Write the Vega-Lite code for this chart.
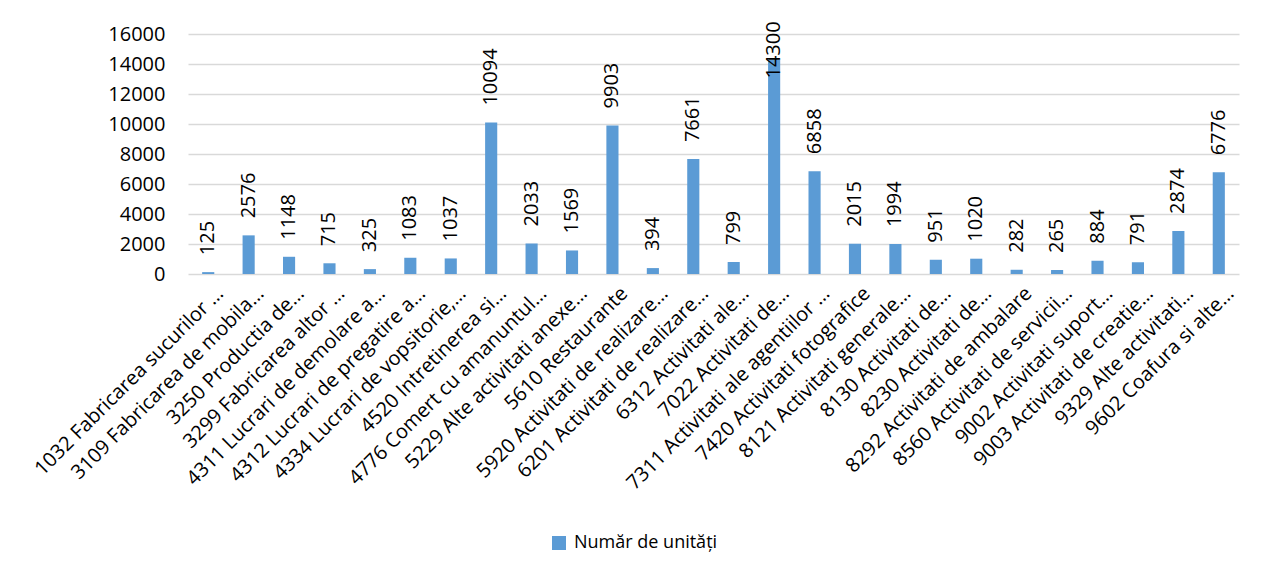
{
  "$schema": "https://vega.github.io/schema/vega-lite/v6.json",
  "width": 1051,
  "height": 240,
  "autosize": {"type": "none"},
  "padding": {"left": 188, "top": 34, "right": 30, "bottom": 306},
  "background": "white",
  "config": {
    "view": {"stroke": null},
    "font": "Open Sans"
  },
  "data": {
    "values": [
      {"cat": "1032 Fabricarea sucurilor …", "val": 125, "series": "Număr de unități"},
      {"cat": "3109 Fabricarea de mobila…", "val": 2576, "series": "Număr de unități"},
      {"cat": "3250 Productia de…", "val": 1148, "series": "Număr de unități"},
      {"cat": "3299 Fabricarea altor …", "val": 715, "series": "Număr de unități"},
      {"cat": "4311 Lucrari de demolare a…", "val": 325, "series": "Număr de unități"},
      {"cat": "4312 Lucrari de pregatire a…", "val": 1083, "series": "Număr de unități"},
      {"cat": "4334 Lucrari de vopsitorie,…", "val": 1037, "series": "Număr de unități"},
      {"cat": "4520 Intretinerea si…", "val": 10094, "series": "Număr de unități"},
      {"cat": "4776 Comert cu amanuntul…", "val": 2033, "series": "Număr de unități"},
      {"cat": "5229 Alte activitati anexe…", "val": 1569, "series": "Număr de unități"},
      {"cat": "5610 Restaurante", "val": 9903, "series": "Număr de unități"},
      {"cat": "5920 Activitati de realizare…", "val": 394, "series": "Număr de unități"},
      {"cat": "6201 Activitati de realizare…", "val": 7661, "series": "Număr de unități"},
      {"cat": "6312 Activitati ale…", "val": 799, "series": "Număr de unități"},
      {"cat": "7022 Activitati de…", "val": 14300, "series": "Număr de unități"},
      {"cat": "7311 Activitati ale agentiilor …", "val": 6858, "series": "Număr de unități"},
      {"cat": "7420 Activitati fotografice", "val": 2015, "series": "Număr de unități"},
      {"cat": "8121 Activitati generale…", "val": 1994, "series": "Număr de unități"},
      {"cat": "8130 Activitati de…", "val": 951, "series": "Număr de unități"},
      {"cat": "8230 Activitati de…", "val": 1020, "series": "Număr de unități"},
      {"cat": "8292 Activitati de ambalare", "val": 282, "series": "Număr de unități"},
      {"cat": "8560 Activitati de servicii…", "val": 265, "series": "Număr de unități"},
      {"cat": "9002 Activitati suport…", "val": 884, "series": "Număr de unități"},
      {"cat": "9003 Activitati de creatie…", "val": 791, "series": "Număr de unități"},
      {"cat": "9329 Alte activitati…", "val": 2874, "series": "Număr de unități"},
      {"cat": "9602 Coafura si alte…", "val": 6776, "series": "Număr de unități"}
    ]
  },
  "encoding": {
    "x": {
      "field": "cat",
      "type": "nominal",
      "sort": null,
      "scale": {"paddingInner": 0.7, "paddingOuter": 0.35},
      "axis": {
        "title": null,
        "labelAngle": -45,
        "labelAlign": "right",
        "labelBaseline": "middle",
        "labelFontSize": 20,
        "labelColor": "#000000",
        "labelPadding": 16,
        "labelOffset": 12,
        "labelLimit": 400,
        "ticks": false,
        "domain": false
      }
    },
    "y": {
      "field": "val",
      "type": "quantitative",
      "scale": {"domain": [0, 16000], "nice": false},
      "axis": {
        "title": null,
        "values": [0, 2000, 4000, 6000, 8000, 10000, 12000, 14000, 16000],
        "format": "d",
        "labelFontSize": 20,
        "labelColor": "#000000",
        "labelPadding": 23,
        "ticks": false,
        "domain": false,
        "gridColor": "#d9d9d9",
        "gridWidth": 1.5
      }
    }
  },
  "layer": [
    {
      "mark": {"type": "bar"},
      "encoding": {
        "color": {
          "field": "series",
          "type": "nominal",
          "scale": {"range": ["#5b9bd5"]},
          "legend": {
            "title": null,
            "orient": "none",
            "legendX": 362,
            "legendY": 500,
            "symbolType": "square",
            "symbolSize": 196,
            "symbolStrokeWidth": 0,
            "labelFontSize": 18,
            "labelColor": "#000000",
            "labelOffset": 6,
            "padding": 0
          }
        }
      }
    },
    {
      "transform": [{"filter": "datum.val < 13000"}],
      "mark": {
        "type": "text",
        "angle": 270,
        "align": "left",
        "baseline": "middle",
        "dx": 17,
        "fontSize": 20,
        "color": "#000000"
      },
      "encoding": {
        "text": {"field": "val", "type": "quantitative", "format": "d"}
      }
    },
    {
      "transform": [{"filter": "datum.val >= 13000"}],
      "mark": {
        "type": "text",
        "angle": 270,
        "align": "left",
        "baseline": "middle",
        "dx": -19,
        "fontSize": 20,
        "color": "#000000"
      },
      "encoding": {
        "text": {"field": "val", "type": "quantitative", "format": "d"}
      }
    }
  ]
}
